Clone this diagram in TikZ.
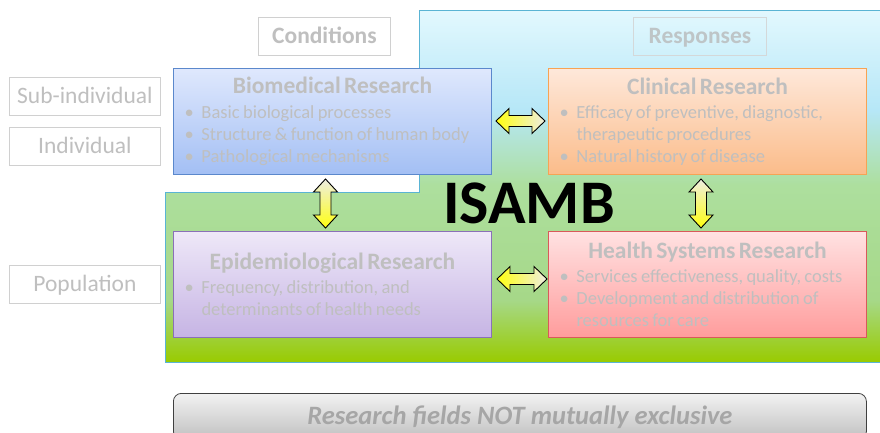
\documentclass[tikz,border=0pt]{standalone}
\usepackage{fontspec}
\setmainfont{Carlito}
\usetikzlibrary{calc}

\definecolor{bgA}{HTML}{E2F8FE}
\definecolor{bgB}{HTML}{B6E7F7}
\definecolor{bgE}{HTML}{ADDF9E}
\definecolor{bgF}{HTML}{A6D888}
\definecolor{bgG}{HTML}{99CB00}
\definecolor{bgborder}{HTML}{5AB4D4}
\definecolor{bioA}{HTML}{DFE8FD}
\definecolor{bioB}{HTML}{A3BFF4}
\definecolor{bioD}{HTML}{5B88CC}
\definecolor{cliA}{HTML}{FEE8DA}
\definecolor{cliB}{HTML}{FBBC8A}
\definecolor{cliD}{HTML}{F7A354}
\definecolor{epiA}{HTML}{EEE8F8}
\definecolor{epiB}{HTML}{C6B4E4}
\definecolor{epiD}{HTML}{8A70B8}
\definecolor{hsrA}{HTML}{FFE2E2}
\definecolor{hsrB}{HTML}{FF9C9C}
\definecolor{hsrD}{HTML}{D85A5A}
\definecolor{fieldtext}{HTML}{BFBFBF}
\definecolor{lbltext}{HTML}{BFBFBF}
\definecolor{lblborder}{HTML}{D0D0D0}
\definecolor{arrowY}{HTML}{FFFF10}
\definecolor{arrowW}{HTML}{EEEEE2}
\definecolor{botA}{HTML}{F2F2F2}
\definecolor{botB}{HTML}{C0C0C0}
\definecolor{bottext}{HTML}{A6A6A6}

\pgfdeclareverticalshading{bgshade}{100bp}{color(0bp)=(bgG); color(25bp)=(bgG); color(33.8bp)=(bgF); color(50.2bp)=(bgE); color(60.9bp)=(bgB); color(75bp)=(bgA); color(100bp)=(bgA)}

\newcommand\fieldtitlefont{\bfseries\fontsize{23.5}{28}\selectfont}
\newcommand\fielditemfont{\fontsize{18.5}{22}\selectfont}
\newcommand\fieldtitle[1]{{\centering\fieldtitlefont #1\par}\vspace{2.5pt}}
\newcommand\bitem[1]{{\fielditemfont\noindent\makebox[17pt][l]{\textbullet}\mbox{#1}\par}}
\newcommand\bitemtwo[2]{{\fielditemfont\noindent\makebox[17pt][l]{\textbullet}\mbox{#1}\par
  \noindent\hspace*{17pt}\mbox{#2}\par}}

\newcommand\hdbl[3]{\path[blockarrow,#3] let \p1=(#1), \p2=(#2) in
  (\x1,\y1) -- (\x1+13pt,\y1+12.5pt) -- (\x1+13pt,\y1+5.5pt) -- (\x2-13pt,\y1+5.5pt) -- (\x2-13pt,\y1+12.5pt) -- (\x2,\y1)
  -- (\x2-13pt,\y1-12.5pt) -- (\x2-13pt,\y1-5.5pt) -- (\x1+13pt,\y1-5.5pt) -- (\x1+13pt,\y1-12.5pt) -- cycle;}
\newcommand\vdbl[3]{\path[blockarrow,#3] let \p1=(#1), \p2=(#2) in
  (\x1,\y1) -- (\x1+12pt,\y1-13pt) -- (\x1+5.5pt,\y1-13pt) -- (\x1+5.5pt,\y2+13pt) -- (\x1+12pt,\y2+13pt) -- (\x1,\y2)
  -- (\x1-12pt,\y2+13pt) -- (\x1-5.5pt,\y2+13pt) -- (\x1-5.5pt,\y1-13pt) -- (\x1-12pt,\y1-13pt) -- cycle;}

\tikzset{
  fieldbox/.style={draw, line width=1pt, minimum width=318pt, minimum height=106pt, text width=296pt,
    inner xsep=11pt, inner ysep=0pt, align=left, anchor=north west, text=fieldtext},
  lblbox/.style={draw=lblborder, line width=0.8pt, minimum width=151pt, minimum height=38pt, inner sep=0pt,
    anchor=north west, text=lbltext, font=\fontsize{23.5}{28}\selectfont, text height=15pt, text depth=0pt},
  blockarrow/.style={draw=black, line width=0.9pt, line join=miter},
}

\begin{document}
\begin{tikzpicture}[x=1pt,y=-1pt]
\useasboundingbox (0,0) rectangle (880,433);
\fill[white] (0,0) rectangle (880,433);

% background region
\path[draw=bgborder, line width=1pt, shading=bgshade]
  (419,11) -- (895,11) -- (895,362) -- (165,362) -- (165,192) -- (419,192) -- cycle;

% column / row labels
\node[lblbox, minimum width=132pt, font=\bfseries\fontsize{23.5}{28}\selectfont] (cond) at (258,17) {Conditions};
\node[lblbox, minimum width=133pt, font=\bfseries\fontsize{23.5}{28}\selectfont, draw=lblborder!80!bgA, text=lbltext!85!bgB] (resp) at (633,17) {Responses};
\node[lblbox] (sub) at (9,77) {Sub-individual};
\node[lblbox] (ind) at (9,127) {Individual};
\node[lblbox] (pop) at (9,265) {Population};

% research fields
\node[fieldbox, draw=bioD, top color=bioA, bottom color=bioB] (bio) at (173,68) {%
  \fieldtitle{Biomedical Research}%
  \bitem{Basic biological processes}%
  \bitem{Structure \& function of human body}%
  \bitem{Pathological mechanisms}};
\node[fieldbox, draw=cliD, top color=cliA, bottom color=cliB] (cli) at (548,68) {%
  \fieldtitle{Clinical Research}%
  \bitemtwo{Efficacy of preventive, diagnostic,}{therapeutic procedures}%
  \bitem{Natural history of disease}};
\node[fieldbox, draw=epiD, top color=epiA, bottom color=epiB] (epi) at (173,231) {%
  \fieldtitle{Epidemiological Research}%
  \bitemtwo{Frequency, distribution, and}{determinants of health needs}};
\node[fieldbox, draw=hsrD, top color=hsrA, bottom color=hsrB] (hsr) at (548,231) {%
  \fieldtitle{Health Systems Research}%
  \bitem{Services effectiveness, quality, costs}%
  \bitemtwo{Development and distribution of}{resources for care}};

% ISAMB
\node[font=\bfseries\fontsize{62}{70}\selectfont, inner sep=0pt, text height=40pt, text depth=0pt] (isamb) at (529,203) {ISAMB};

% connectors (block double arrows)
\hdbl{$(bio.east)+(4,-0.5)$}{$(cli.west)+(-3,-0.5)$}{left color=arrowY, right color=arrowW}
\hdbl{$(epi.east)+(5,-5.5)$}{$(hsr.west)+(-1,-5.5)$}{left color=arrowY, right color=arrowW}
\vdbl{$(bio.south)+(-7,4)$}{$(epi.north)+(-7,-3)$}{top color=arrowW, bottom color=arrowY}
\vdbl{$(cli.south)+(-6.5,4)$}{$(hsr.north)+(-6.5,-3)$}{top color=arrowW, bottom color=arrowY}

% bottom note
\node[anchor=north west, draw=black!75, line width=0.8pt, rounded corners=8pt, top color=botA, bottom color=botB,
  minimum width=693pt, minimum height=46pt, inner sep=0pt, text=bottext,
  font=\bfseries\itshape\fontsize{26.5}{30}\selectfont, text height=17pt, text depth=0pt] (note) at (173,393)
  {Research fields NOT mutually exclusive};
\end{tikzpicture}
\end{document}
